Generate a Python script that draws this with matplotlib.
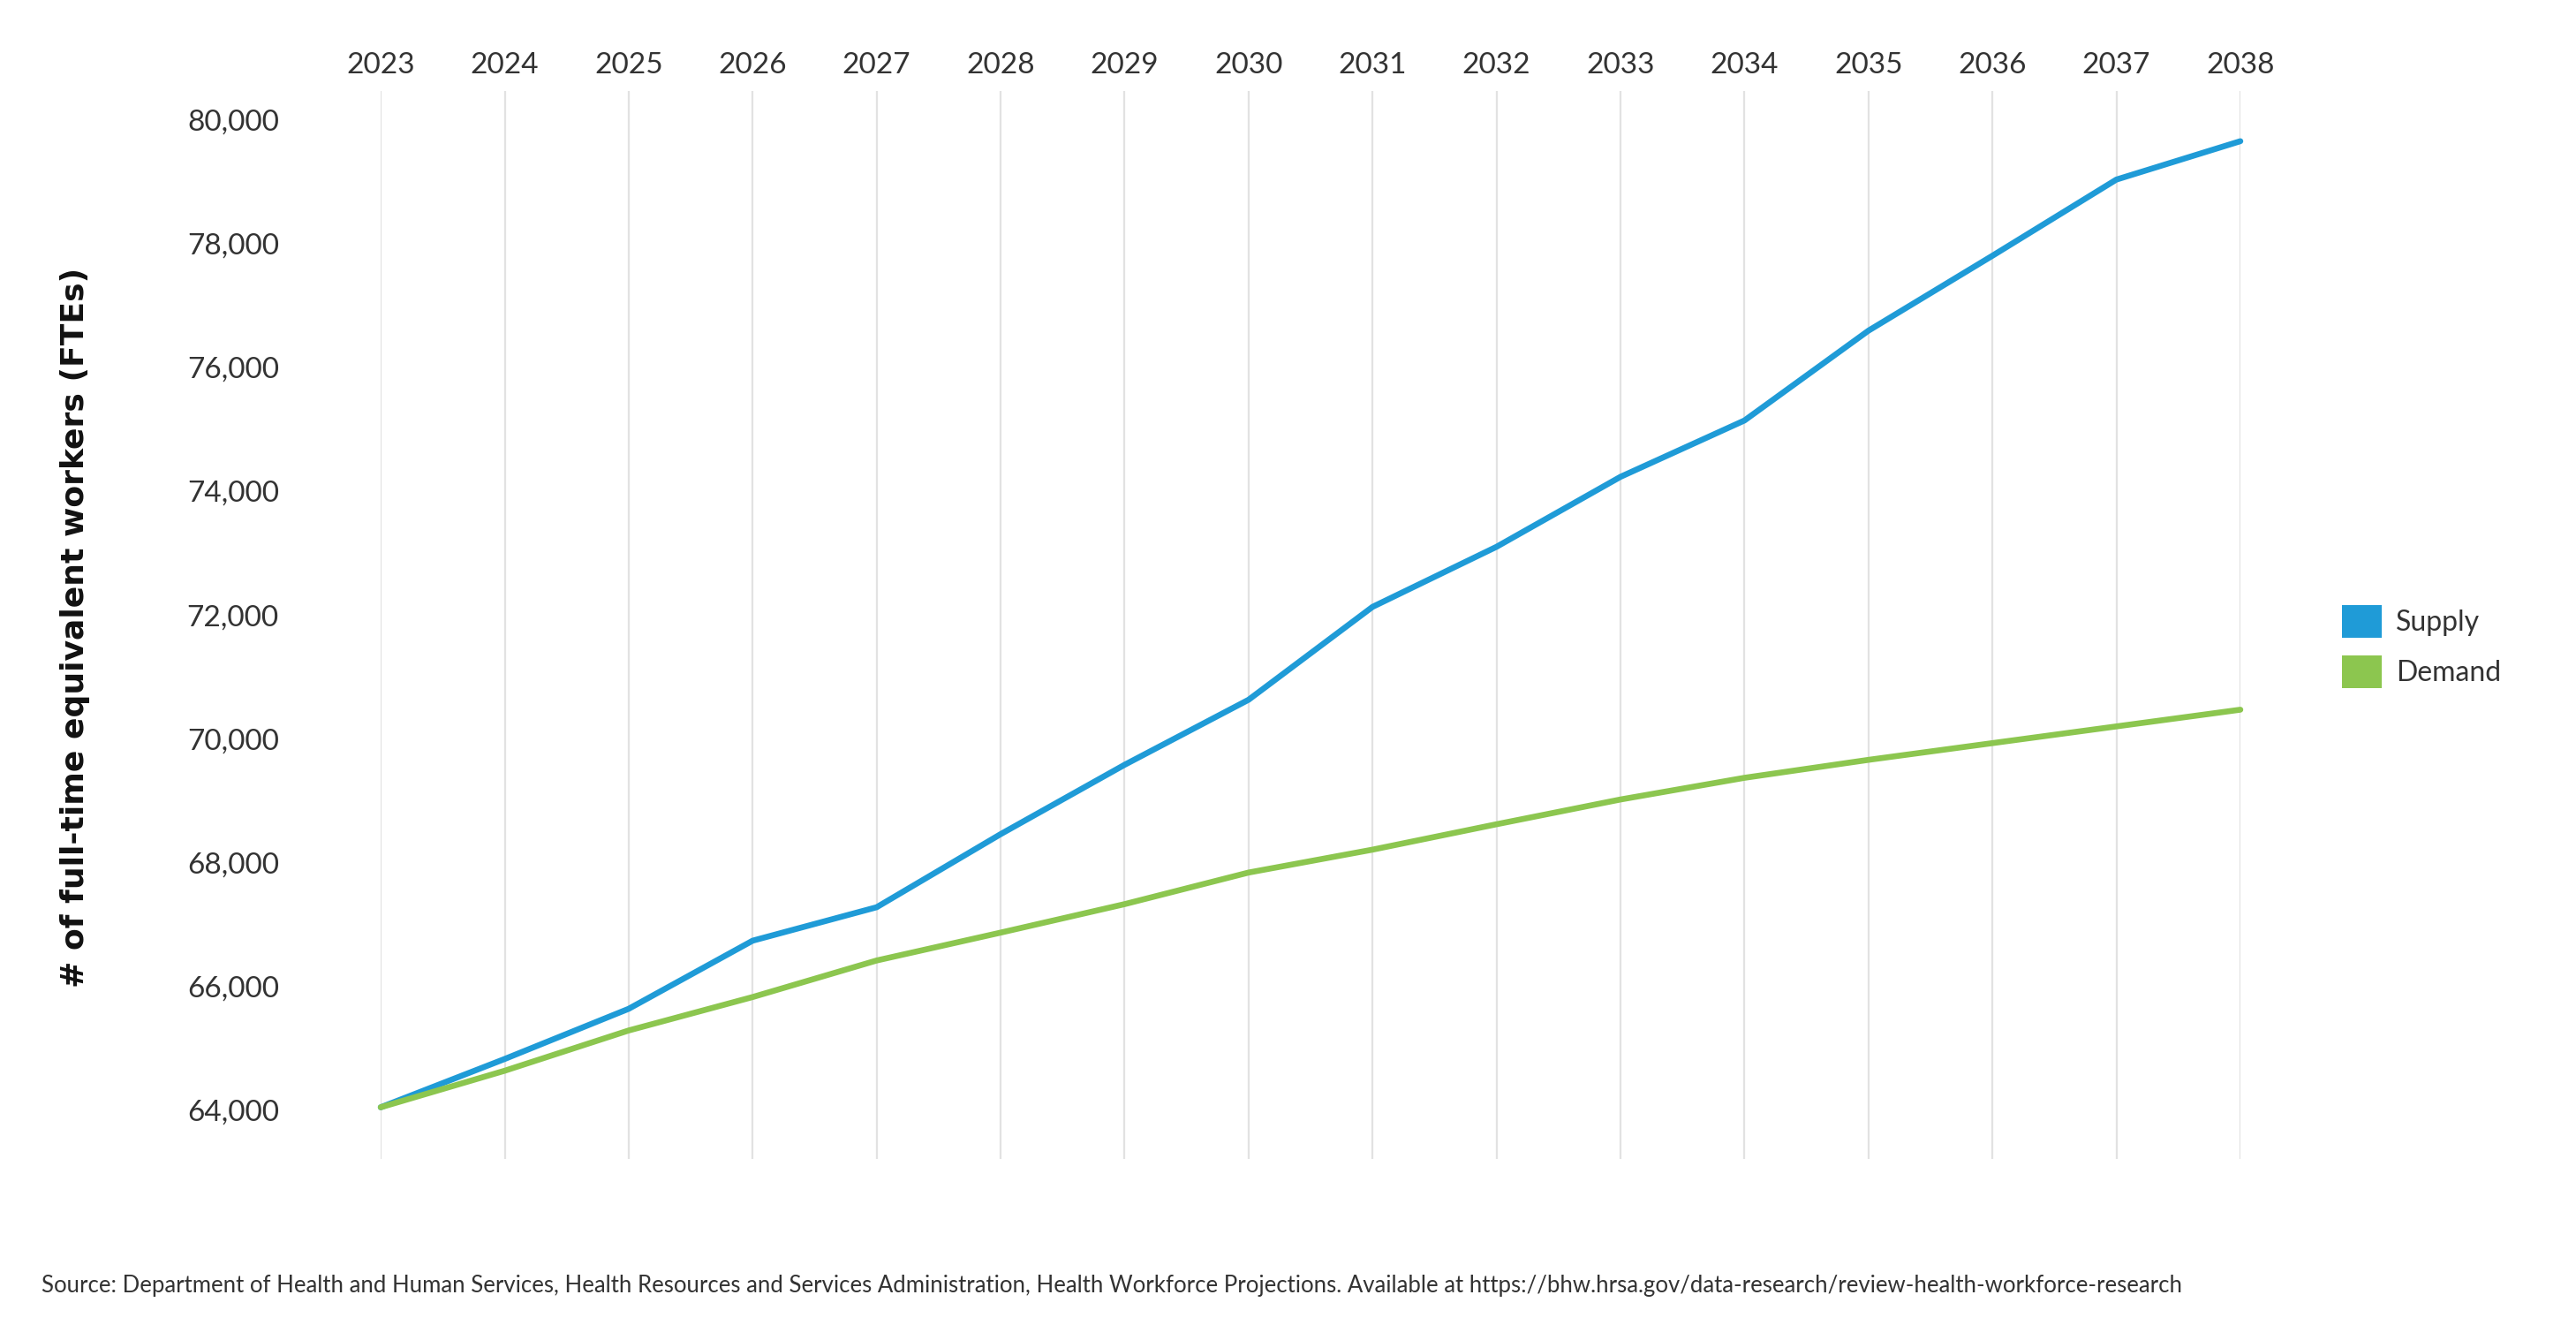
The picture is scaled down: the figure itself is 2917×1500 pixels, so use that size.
import matplotlib
matplotlib.use('Agg')
import matplotlib.pyplot as plt
from matplotlib.patches import Patch
from matplotlib.ticker import FuncFormatter

# projections
years = list(range(2023, 2039))
supply = [64050, 64830, 65640, 66740, 67280, 68460, 69580, 70630,
          72130, 73100, 74230, 75140, 76590, 77800, 79030, 79650]
demand = [64050, 64640, 65290, 65830, 66420, 66870, 67330, 67840,
          68210, 68620, 69020, 69370, 69660, 69930, 70200, 70470]
yticks = list(range(64000, 80001, 2000))
series_names = ['Supply', 'Demand']
series_colors = ['#1f9bd7', '#8cc64f']
ylabel = '# of full-time equivalent workers (FTEs)'
source = ('Source: Department of Health and Human Services, Health Resources and Services '
          'Administration, Health Workforce Projections. Available at '
          'https://bhw.hrsa.gov/data-research/review-health-workforce-research')

plt.rcParams['font.family'] = ['Lato', 'DejaVu Sans']
text_col = '#333333'

fig = plt.figure(figsize=(29.17, 15), dpi=100)
ax = fig.add_axes([0.1478, 0.1253, 0.7219, 0.806])

ax.plot(years, supply, color=series_colors[0], lw=4.8, clip_on=False,
        solid_capstyle='round', solid_joinstyle='round', zorder=3)
ax.plot(years, demand, color=series_colors[1], lw=4.8, clip_on=False,
        solid_capstyle='round', solid_joinstyle='round', zorder=3)

ax.set_xlim(2023, 2038)
ax.set_ylim(63215, 80460)
ax.set_xticks(years)
ax.set_yticks(yticks)
ax.yaxis.set_major_formatter(FuncFormatter(lambda v, p: f'{int(v):,}'))
ax.xaxis.tick_top()
ax.tick_params(axis='x', length=0, pad=10, labelsize=24, labelcolor=text_col)
ax.tick_params(axis='y', length=0, pad=83, labelsize=24, labelcolor=text_col)

ax.grid(axis='x', color='#e2e2e2', lw=1.6)
ax.grid(axis='y', visible=False)
for s in ax.spines.values():
    s.set_visible(False)

# wide bold face for the axis title
fig.text(85 / 2917, 1 - 710 / 1500, ylabel, rotation=90, ha='center', va='center',
         fontsize=26, fontweight='bold', color='#111111', family='DejaVu Sans')

handles = [Patch(facecolor=c, edgecolor='none') for c in series_colors]
fig.legend(handles, series_names, loc='center left',
           bbox_to_anchor=(2641 / 2917 - 0.004, 1 - 732 / 1500), frameon=False,
           fontsize=23, handlelength=1.42, handleheight=1.42, handletextpad=0.5,
           labelspacing=0.62, labelcolor=text_col, borderpad=0.2)

fig.text(47 / 2917, 1 - 1455 / 1500, source, ha='left', va='center',
         fontsize=18.5, color=text_col)

fig.savefig('out.png', dpi=100, facecolor='white')
